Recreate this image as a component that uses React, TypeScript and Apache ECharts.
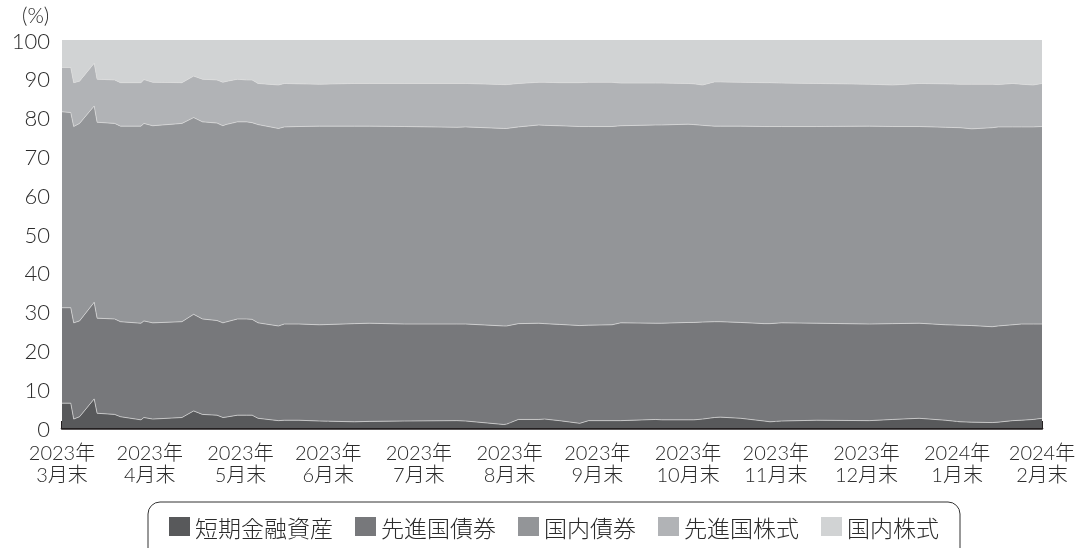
import React, { useEffect, useRef } from "react";
import * as echarts from "echarts";

const dates = [
  "2023-03-31", "2023-04-03", "2023-04-04", "2023-04-06", "2023-04-11", "2023-04-12", "2023-04-18", "2023-04-20",
  "2023-04-27", "2023-04-28", "2023-05-01", "2023-05-11", "2023-05-15", "2023-05-18", "2023-05-23", "2023-05-25",
  "2023-05-26", "2023-05-30", "2023-06-02", "2023-06-04", "2023-06-06", "2023-06-13", "2023-06-15", "2023-06-20",
  "2023-06-27", "2023-07-09", "2023-07-14", "2023-07-26", "2023-08-13", "2023-08-16", "2023-08-29", "2023-08-30",
  "2023-09-03", "2023-09-10", "2023-09-12", "2023-09-17", "2023-09-24", "2023-09-27", "2023-10-05", "2023-10-08",
  "2023-10-20", "2023-10-22", "2023-10-31", "2023-11-02", "2023-11-05", "2023-11-09", "2023-11-11", "2023-11-18",
  "2023-11-26", "2023-11-28", "2023-12-02", "2023-12-14", "2024-01-01", "2024-01-09", "2024-01-18", "2024-01-27",
  "2024-02-01", "2024-02-05", "2024-02-12", "2024-02-14", "2024-02-19", "2024-02-22", "2024-02-26", "2024-02-29",
];

const shortTerm = [
  6.4, 6.4, 2.3, 2.9, 7.5, 3.8, 3.5, 2.9, 2.1, 2.7, 2.3, 2.7, 4.4, 3.5, 3.3, 2.7,
  2.8, 3.3, 3.3, 3.3, 2.5, 1.9, 2.0, 2.0, 1.8, 1.6, 1.7, 1.8, 1.9, 1.8, 0.9, 1.0,
  2.2, 2.2, 2.3, 1.9, 1.2, 1.9, 1.9, 1.9, 2.2, 2.1, 2.1, 2.1, 2.3, 2.7, 2.8, 2.5,
  1.8, 1.6, 1.8, 2.0, 1.9, 2.2, 2.5, 2.0, 1.6, 1.5, 1.4, 1.5, 1.9, 2.0, 2.2, 2.5,
];
const devBonds = [
  24.6, 24.6, 24.8, 24.7, 24.9, 24.5, 24.6, 24.5, 24.9, 24.9, 24.8, 24.7, 24.9, 24.6, 24.4, 24.4,
  24.5, 24.8, 24.8, 24.7, 24.6, 24.4, 24.8, 24.8, 24.8, 25.3, 25.3, 25.0, 24.9, 25.0, 25.4, 25.3,
  24.7, 24.8, 24.6, 24.8, 25.2, 24.6, 24.7, 25.2, 24.8, 24.9, 25.1, 25.1, 25.0, 24.7, 24.6, 24.7,
  25.1, 25.3, 25.3, 25.0, 24.9, 24.7, 24.5, 24.6, 24.9, 24.9, 24.7, 24.8, 24.7, 24.8, 24.6, 24.3,
];
const domBonds = [
  50.5, 50.3, 50.6, 50.9, 50.6, 50.5, 50.4, 50.4, 50.8, 50.9, 50.8, 51.1, 50.7, 50.8, 50.9, 50.8,
  50.9, 50.8, 50.8, 50.7, 51.1, 50.9, 50.8, 50.9, 51.2, 50.9, 50.8, 50.9, 50.7, 50.8, 50.9, 50.9,
  50.7, 51.1, 51.1, 51.2, 51.3, 51.2, 51.1, 50.8, 51.1, 51.1, 51.1, 51.0, 50.7, 50.4, 50.4, 50.6,
  50.8, 50.8, 50.6, 50.7, 51.0, 50.8, 50.7, 50.9, 50.9, 50.7, 51.3, 51.3, 51.0, 50.8, 50.8, 50.9,
];
const devStocks = [
  11.4, 11.6, 11.3, 10.9, 11.0, 11.1, 11.2, 11.2, 11.2, 11.3, 11.2, 10.5, 10.7, 11.0, 11.1, 11.2,
  11.1, 11.0, 10.8, 11.0, 10.6, 11.2, 11.2, 11.0, 10.8, 11.0, 11.0, 11.1, 11.3, 11.2, 11.3, 11.3,
  11.2, 11.0, 11.1, 11.1, 11.3, 11.4, 11.4, 11.0, 10.8, 10.8, 10.5, 10.5, 10.4, 11.4, 11.4, 11.3,
  11.3, 11.3, 11.2, 11.1, 10.8, 10.7, 11.1, 11.2, 11.2, 11.5, 11.2, 10.9, 11.2, 11.0, 10.8, 11.1,
];
const domStocks = [
  7.1, 7.1, 11.0, 10.6, 6.0, 10.1, 10.3, 11.0, 11.0, 10.2, 10.9, 11.0, 9.3, 10.1, 10.3, 10.9,
  10.7, 10.1, 10.3, 10.3, 11.2, 11.6, 11.2, 11.3, 11.4, 11.2, 11.2, 11.2, 11.2, 11.2, 11.5, 11.5,
  11.2, 10.9, 10.9, 11.0, 11.0, 10.9, 10.9, 11.1, 11.1, 11.1, 11.2, 11.3, 11.6, 10.8, 10.8, 10.9,
  11.0, 11.0, 11.1, 11.2, 11.4, 11.6, 11.2, 11.3, 11.4, 11.4, 11.4, 11.5, 11.2, 11.4, 11.6, 11.2,
];

const seriesNames = ["短期金融資産", "先進国債券", "国内債券", "先進国株式", "国内株式"];
const seriesColors = ["#58595b", "#77787b", "#939598", "#b1b3b6", "#d1d3d4"];

const monthEnds = [
  "2023-03-31", "2023-04-30", "2023-05-31", "2023-06-30", "2023-07-31", "2023-08-31",
  "2023-09-30", "2023-10-31", "2023-11-30", "2023-12-31", "2024-01-31", "2024-02-29",
];
const tickLabels = [
  "2023年\n3月末", "2023年\n4月末", "2023年\n5月末", "2023年\n6月末", "2023年\n7月末", "2023年\n8月末",
  "2023年\n9月末", "2023年\n10月末", "2023年\n11月末", "2023年\n12月末", "2024年\n1月末", "2024年\n2月末",
];

const toTs = (s: string) => {
  const [y, m, d] = s.split("-").map(Number);
  return new Date(y, m - 1, d).getTime();
};
const pad = (n: number) => (n < 10 ? "0" + n : "" + n);
const dayString = (t: number) => {
  const d = new Date(t);
  return `${d.getFullYear()}-${pad(d.getMonth() + 1)}-${pad(d.getDate())}`;
};

const FONT = "'Noto Sans CJK JP', 'Noto Sans', sans-serif";
const NUMFONT = "Lato, 'Noto Sans CJK JP', sans-serif";
const TEXT = "#2b2b2b";

export default function App() {
  const ref = useRef<HTMLDivElement>(null);
  useEffect(() => {
    if (!ref.current) return;
    const chart = echarts.init(ref.current, undefined, { renderer: "svg" });
    const startTs = toTs(monthEnds[0]);
    const endTs = toTs(monthEnds[monthEnds.length - 1]);
    // calendar days along the axis, used only for placing month-end ticks/labels
    const calendar: string[] = [];
    for (let d = new Date(startTs); d.getTime() <= endTs; d.setDate(d.getDate() + 1)) {
      calendar.push(dayString(d.getTime()));
    }
    const isMonthEnd = (_i: number, v: string) => monthEnds.indexOf(v) >= 0;
    const values = [shortTerm, devBonds, domBonds, devStocks, domStocks];
    chart.setOption({
      animation: false,
      textStyle: { fontFamily: FONT },
      grid: { left: 62, right: 44, top: 40, bottom: 120 },
      graphic: [
        {
          type: "text",
          left: 22,
          top: 4,
          style: { text: "(%)", fontSize: 21, fontFamily: NUMFONT, fill: TEXT, fontWeight: 300 },
        },
      ],
      legend: {
        left: 148,
        top: 502,
        padding: [13, 21, 40, 21],
        borderColor: "#333",
        borderWidth: 1,
        borderRadius: 12,
        itemWidth: 21,
        itemHeight: 19,
        itemGap: 22,
        icon: "rect",
        textStyle: { fontSize: 23, color: TEXT, fontFamily: FONT, fontWeight: 300 },
        data: seriesNames,
      },
      xAxis: [
        {
          type: "time",
          min: startTs,
          max: endTs,
          axisLine: { show: false },
          axisTick: { show: false },
          axisLabel: { show: false },
          splitLine: { show: false },
        },
        {
          type: "category",
          position: "bottom",
          boundaryGap: false,
          data: calendar,
          axisLine: { show: true, lineStyle: { color: "#231f20", width: 2.5 } },
          axisTick: {
            show: true,
            inside: true,
            length: 7,
            interval: isMonthEnd,
            lineStyle: { color: "#231f20", width: 2 },
          },
          axisLabel: {
            interval: isMonthEnd,
            fontSize: 20,
            lineHeight: 22,
            color: TEXT,
            fontFamily: NUMFONT,
            fontWeight: 300,
            margin: 13,
            formatter: (v: string) => {
              const i = monthEnds.indexOf(v);
              return i >= 0 ? tickLabels[i] : "";
            },
          },
          splitLine: { show: false },
        },
      ],
      yAxis: {
        type: "value",
        min: 0,
        max: 100,
        interval: 10,
        axisLine: { show: false },
        axisTick: { show: false },
        splitLine: { show: false },
        axisLabel: { fontSize: 22, color: TEXT, margin: 12, fontFamily: NUMFONT, fontWeight: 300 },
      },
      series: seriesNames.map((name, k) => ({
        name,
        type: "line",
        xAxisIndex: 0,
        stack: "total",
        symbol: "none",
        color: seriesColors[k],
        lineStyle: { width: k === 4 ? 0 : 0.7, color: "#dcdcdc" },
        areaStyle: { color: seriesColors[k], opacity: 1 },
        itemStyle: { color: seriesColors[k] },
        data: dates.map((d, i) => [toTs(d), values[k][i]]),
      })),
    });
    return () => chart.dispose();
  }, []);
  return (
    <div
      ref={ref}
      style={{ position: "fixed", left: 0, top: 0, width: 1086, height: 548 }}
    />
  );
}
